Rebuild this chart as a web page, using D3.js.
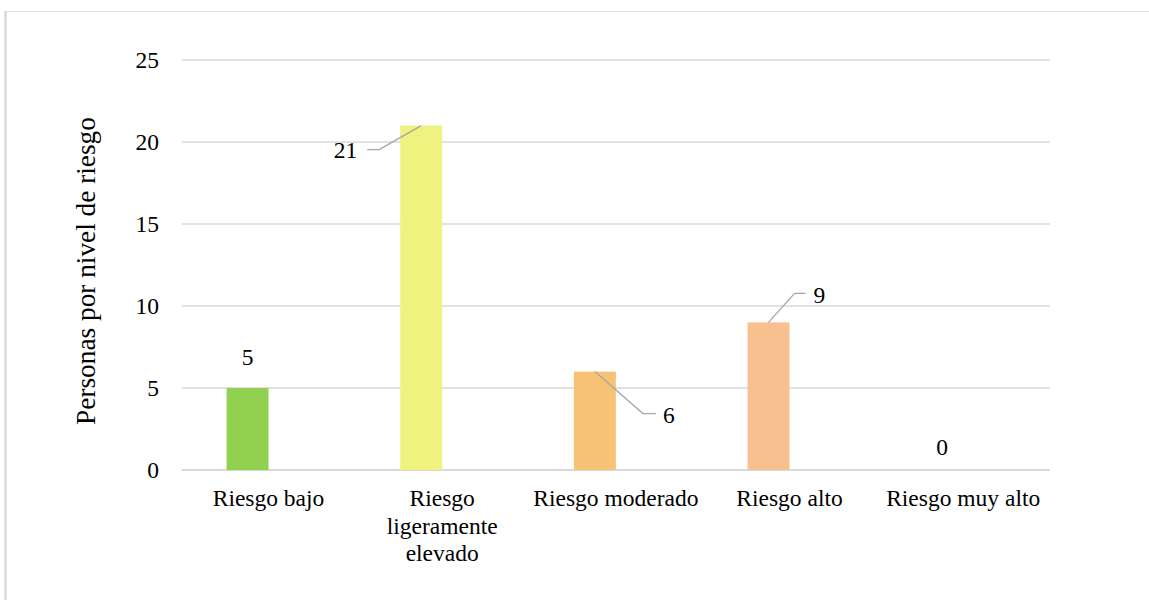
<!DOCTYPE html>
<html>
<head>
<meta charset="utf-8">
<script src="https://cdn.jsdelivr.net/npm/d3@7/dist/d3.min.js"></script>
<style>
  html, body { margin: 0; padding: 0; background: #fff; }
  svg { display: block; }
  svg text { font-family: "Liberation Serif", "Times New Roman", "DejaVu Serif", serif; fill: #000; }
</style>
</head>
<body>
<svg id="chart" width="1149" height="600"></svg>
<script>
// ---- Data ----
const categories = ["Riesgo bajo", "Riesgo ligeramente elevado", "Riesgo moderado", "Riesgo alto", "Riesgo muy alto"];
const categoryLines = [["Riesgo bajo"], ["Riesgo", "ligeramente", "elevado"], ["Riesgo moderado"], ["Riesgo alto"], ["Riesgo muy alto"]];
const values = [5, 21, 6, 9, 0];
const yTicks = [0, 5, 10, 15, 20, 25];
const yTitle = "Personas por nivel de riesgo";

// ---- Styles ----
const FONT = '"Liberation Serif", "Times New Roman", "DejaVu Serif", serif';
const barColors = ["#92D050", "#EEF27E", "#F8C274", "#F8BF8F", "#F8BF8F"];
const fontSize = 23.5;
const titleSize = 27.3;

// Data label placement (pixel offsets from bar top centre): leader elbow/end and text anchor
const labelLayout = [
  { leader: null, tx: 0, ty: -31, anchor: "middle" },
  { leader: [[-42, 24], [-54, 24]], tx: -64, ty: 24, anchor: "end" },
  { leader: [[48, 42], [61, 42]], tx: 68, ty: 43, anchor: "start" },
  { leader: [[26, -29], [37, -29]], tx: 45, ty: -28, anchor: "start" },
  { leader: null, tx: 0, ty: -23, anchor: "middle" }
];

const svg = d3.select("#chart");

// chart frame (partially visible)
svg.append("line").attr("x1", 5).attr("x2", 1149).attr("y1", 11.5).attr("y2", 11.5)
  .attr("stroke", "#e3e3e3").attr("stroke-width", 1);
svg.append("line").attr("x1", 5.5).attr("x2", 5.5).attr("y1", 11).attr("y2", 600)
  .attr("stroke", "#d9d9d9").attr("stroke-width", 2.5);

const plot = { left: 181.7, right: 1050, top: 60, bottom: 470 };

const x = d3.scaleBand().domain(categories).range([plot.left, plot.right]).paddingInner(0).paddingOuter(0);
// two-series cluster (second series empty), Excel gap width ~214%
const sub = d3.scaleBand().domain(["s1", "s2"]).range([0, x.bandwidth()]).paddingInner(0).paddingOuter(1.07);
const y = d3.scaleLinear().domain([0, 25]).range([plot.bottom, plot.top]);

// gridlines
svg.append("g").selectAll("line").data(yTicks).join("line")
  .attr("x1", plot.left).attr("x2", plot.right)
  .attr("y1", d => y(d)).attr("y2", d => y(d))
  .attr("stroke", "#d9d9d9").attr("stroke-width", d => d === 0 ? 2 : 1.3);

// y axis tick labels
const yAxis = d3.axisLeft(y).tickValues(yTicks).tickSize(0).tickPadding(0);
const gy = svg.append("g").attr("transform", `translate(159,0)`).call(yAxis)
  .attr("font-family", FONT).attr("font-size", fontSize);
gy.select(".domain").remove();
gy.selectAll("text").attr("font-size", fontSize).attr("font-family", FONT).attr("fill", "#000");

// y title
svg.append("text")
  .attr("transform", `translate(95,271) rotate(-90)`)
  .attr("text-anchor", "middle")
  .attr("font-family", FONT)
  .attr("font-size", titleSize)
  .text(yTitle);

// bars
const barX = c => x(c) + sub("s1");
svg.append("g").selectAll("rect").data(values).join("rect")
  .attr("x", (d, i) => barX(categories[i]))
  .attr("width", sub.bandwidth())
  .attr("y", d => y(d))
  .attr("height", d => y(0) - y(d))
  .attr("fill", (d, i) => barColors[i]);

// data labels
const lg = svg.append("g");
values.forEach((v, i) => {
  const cx = barX(categories[i]) + sub.bandwidth() / 2;
  const cy = y(v);
  const L = labelLayout[i];
  if (L.leader) {
    const pts = [[cx, cy]].concat(L.leader.map(p => [cx + p[0], cy + p[1]]));
    lg.append("path").attr("d", d3.line()(pts))
      .attr("fill", "none").attr("stroke", "#a6a6a6").attr("stroke-width", 1.3);
  }
  lg.append("text")
    .attr("x", cx + L.tx).attr("y", cy + L.ty).attr("dy", "0.35em")
    .attr("text-anchor", L.anchor).attr("font-size", fontSize).attr("font-family", FONT)
    .text(v);
});

// category labels
const cg = svg.append("g");
categories.forEach((c, i) => {
  const t = cg.append("text")
    .attr("x", x(c) + x.bandwidth() / 2).attr("y", 506)
    .attr("text-anchor", "middle").attr("font-size", fontSize).attr("font-family", FONT);
  categoryLines[i].forEach((ln, j) => {
    t.append("tspan").attr("x", x(c) + x.bandwidth() / 2).attr("y", 506 + j * 27.5).text(ln);
  });
});
</script>
</body>
</html>
